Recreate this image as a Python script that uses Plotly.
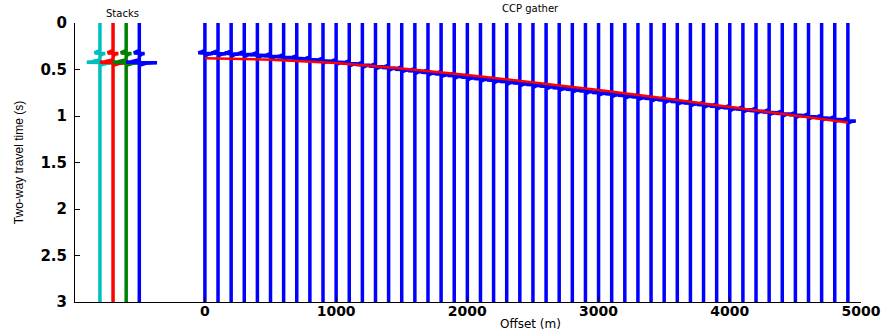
import plotly.graph_objects as go

# ---------------- data ----------------
offsets = [0, 100, 200, 300, 400, 500, 600, 700, 800, 900,
           1000, 1100, 1200, 1300, 1400, 1500, 1600, 1700, 1800, 1900,
           2000, 2100, 2200, 2300, 2400, 2500, 2600, 2700, 2800, 2900,
           3000, 3100, 3200, 3300, 3400, 3500, 3600, 3700, 3800, 3900,
           4000, 4100, 4200, 4300, 4400, 4500, 4600, 4700, 4800, 4900]
event_times = [0.325, 0.327, 0.330, 0.335, 0.345, 0.357, 0.368, 0.380, 0.393, 0.406,
               0.420, 0.435, 0.451, 0.467, 0.483, 0.500, 0.517, 0.534, 0.551, 0.568,
               0.585, 0.601, 0.617, 0.633, 0.649, 0.665, 0.682, 0.699, 0.716, 0.733,
               0.750, 0.766, 0.782, 0.798, 0.814, 0.830, 0.847, 0.864, 0.881, 0.898,
               0.915, 0.930, 0.945, 0.960, 0.975, 0.990, 1.005, 1.020, 1.035, 1.050]

# wavelet (relative time in s, amplitude in metres of offset)
wavelet_dt = [-0.03, -0.010, -0.004, 0.0, 0.004, 0.010, 0.03]
wavelet_amp = [0, -35, -50, 0, 60, 25, 0]

# red picked moveout curve
pick_offsets = [0, 500, 1000, 1500, 2000, 2500, 3000, 3500, 4000, 4500, 4900]
pick_times = [0.380, 0.394, 0.431, 0.488, 0.558, 0.636, 0.721, 0.809, 0.900, 0.994, 1.070]

# stacks
stack_offsets = [-800, -700, -600, -500]
stack_colors = ["#00BFBF", "#FF0000", "#008000", "#0000FF"]
stack_t1 = [0.325, 0.325, 0.325, 0.325]
stack_t2 = [0.425, 0.425, 0.425, 0.425]
stack_dt = [-0.03, -0.008, -0.003, 0.0, 0.003, 0.008, 0.03]
stack_amp1 = [0, -35, -40, 0, 40, 20, 0]
stack_amp2 = [0, -60, -100, 0, 135, 50, 0]

T_MIN, T_MAX = 0.0, 3.0

fig = go.Figure()


def trace_xy(x0, events):
    xs, ys = [x0], [T_MIN]
    for t, dts, amps in events:
        for d, a in zip(dts, amps):
            xs.append(x0 + a)
            ys.append(t + d)
    xs.append(x0)
    ys.append(T_MAX)
    return xs, ys


# stacked traces
for off, col, t1, t2 in zip(stack_offsets, stack_colors, stack_t1, stack_t2):
    xs, ys = trace_xy(off, [(t1, stack_dt, stack_amp1), (t2, stack_dt, stack_amp2)])
    fig.add_trace(go.Scatter(x=xs, y=ys, mode="lines",
                             line=dict(color=col, width=3.5),
                             hoverinfo="skip", showlegend=False))

# CCP gather traces
for off, t in zip(offsets, event_times):
    xs, ys = trace_xy(off, [(t, wavelet_dt, wavelet_amp)])
    fig.add_trace(go.Scatter(x=xs, y=ys, mode="lines",
                             line=dict(color="#0000FF", width=3.5),
                             hoverinfo="skip", showlegend=False))

# moveout pick
fig.add_trace(go.Scatter(x=pick_offsets, y=pick_times, mode="lines",
                         line=dict(color="#FF0000", width=2.5),
                         hoverinfo="skip", showlegend=False))

fig.add_annotation(x=-630, y=1.0, xref="x", yref="paper", yanchor="bottom",
                   text="Stacks", showarrow=False, yshift=2,
                   font=dict(family="DejaVu Sans", size=10, color="#000"))
fig.add_annotation(x=2480, y=1.0, xref="x", yref="paper", yanchor="bottom",
                   text="CCP gather", showarrow=False, yshift=7,
                   font=dict(family="DejaVu Sans", size=10, color="#000"))
fig.add_annotation(x=2480, y=0.0, xref="x", yref="paper", yanchor="top",
                   text="Offset (m)", showarrow=False, yshift=-14, borderpad=0,
                   font=dict(family="DejaVu Sans", size=12, color="#000"))

fig.update_layout(
    width=882, height=331,
    margin=dict(l=75, r=21, t=23, b=29, autoexpand=False),
    paper_bgcolor="white", plot_bgcolor="white",
    font=dict(family="DejaVu Sans", size=14, color="#000"),
)
fig.update_xaxes(range=[-990, 5000], tickvals=[0, 1000, 2000, 3000, 4000, 5000],
                 ticks="inside", ticklen=5, tickcolor="#000",
                 showline=True, linecolor="#000", linewidth=1,
                 showgrid=False, zeroline=False, automargin=False,
                 ticklabelstandoff=-4,
                 tickfont=dict(family="DejaVu Sans", size=14, weight="bold"))
fig.update_yaxes(range=[T_MAX, T_MIN], tickvals=[0, 0.5, 1, 1.5, 2, 2.5, 3],
                 ticktext=["0", "0.5", "1", "1.5", "2", "2.5", "3"],
                 ticks="inside", ticklen=5, tickcolor="#000",
                 showline=True, linecolor="#000", linewidth=1,
                 showgrid=False, zeroline=False, automargin=False,
                 ticklabelstandoff=4,
                 tickfont=dict(family="DejaVu Sans", size=15, weight="bold"),
                 title=dict(text="Two-way travel time (s)", standoff=14,
                            font=dict(family="Liberation Sans, Arial", size=12)))

fig.write_html("out.html", config={"displayModeBar": False},
               post_script="document.body.style.margin='0';document.body.style.overflow='hidden';")
